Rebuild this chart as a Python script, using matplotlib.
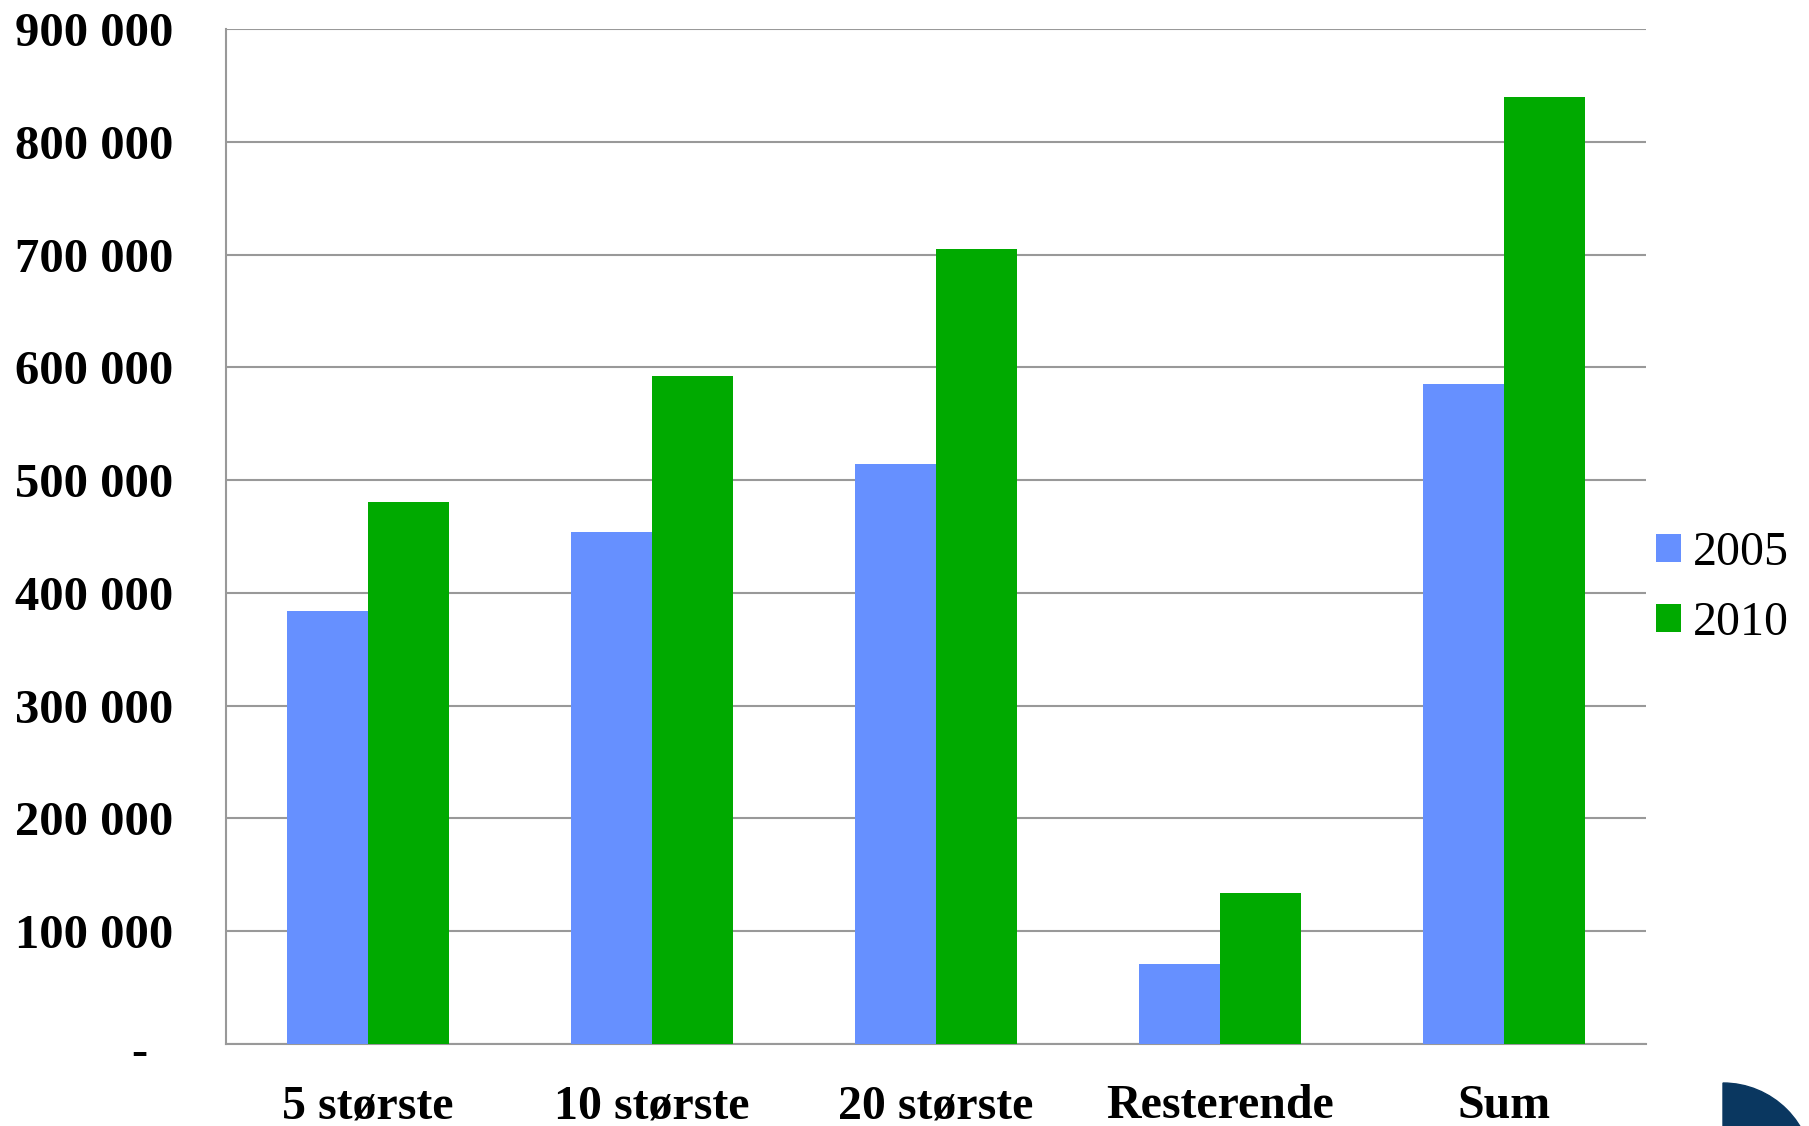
import matplotlib
matplotlib.use("Agg")
import matplotlib.pyplot as plt
import matplotlib.transforms as mtransforms
import numpy as np
from matplotlib.patches import Wedge

categories = ["5 største", "10 største", "20 største", "Resterende", "Sum"]
series_names = ["2005", "2010"]
values_2005 = [384000, 454000, 514000, 71000, 585000]
values_2010 = [481000, 592000, 705000, 134000, 840000]
yticks = [0, 100000, 200000, 300000, 400000, 500000, 600000, 700000, 800000, 900000]
ytick_labels = ["-", "100 000", "200 000", "300 000", "400 000", "500 000",
                "600 000", "700 000", "800 000", "900 000"]
colors = ["#6690FF", "#00AA00"]

W, H = 1809, 1126
fig = plt.figure(figsize=(W / 100, H / 100), dpi=100)
ax = fig.add_axes([226 / W, (H - 1044) / H, (1646 - 226) / W, (1044 - 29) / H])

x = np.arange(len(categories))
bw = 0.285
ax.bar(x - bw / 2, values_2005, bw, color=colors[0], label=series_names[0], zorder=3)
ax.bar(x + bw / 2, values_2010, bw, color=colors[1], label=series_names[1], zorder=3)

ax.set_xlim(-0.5, len(categories) - 0.5)
ax.set_ylim(0, 900000)
ax.set_yticks(yticks)
ax.set_yticklabels(ytick_labels, fontfamily="Liberation Serif", fontweight="bold", fontsize=35)
ax.set_xticks(x)
ax.set_xticklabels(categories, fontfamily="Liberation Serif", fontweight="bold", fontsize=34.5)
ax.tick_params(axis="y", length=0, pad=38)
ax.tick_params(axis="x", length=0, pad=29)
ax.yaxis.grid(True, color="#999999", linewidth=1.5, zorder=0)
for s in ["top", "right"]:
    ax.spines[s].set_visible(False)
for s in ["left", "bottom"]:
    ax.spines[s].set_color("#999999")
    ax.spines[s].set_linewidth(1.5)

# the "-" zero label sits further left than the numbers
zero_lbl = ax.get_yticklabels()[0]
zero_lbl.set_transform(zero_lbl.get_transform() +
                       mtransforms.ScaledTranslation(-0.26, -0.04, fig.dpi_scale_trans))

leg = fig.legend(loc="center left", bbox_to_anchor=(1656 / W, (H - 588) / H),
                 frameon=False, prop={"family": "Liberation Serif", "size": 34.5},
                 handlelength=0.52, handleheight=0.52, handletextpad=0.25,
                 labelspacing=0.55, borderaxespad=0, borderpad=0)

# partial logo in the bottom-right corner
fig.patches.append(Wedge((17.23, -0.47), 0.90, 0, 90, color="#0a3760",
                         transform=fig.dpi_scale_trans, figure=fig))

fig.savefig("out.png", dpi=100)
